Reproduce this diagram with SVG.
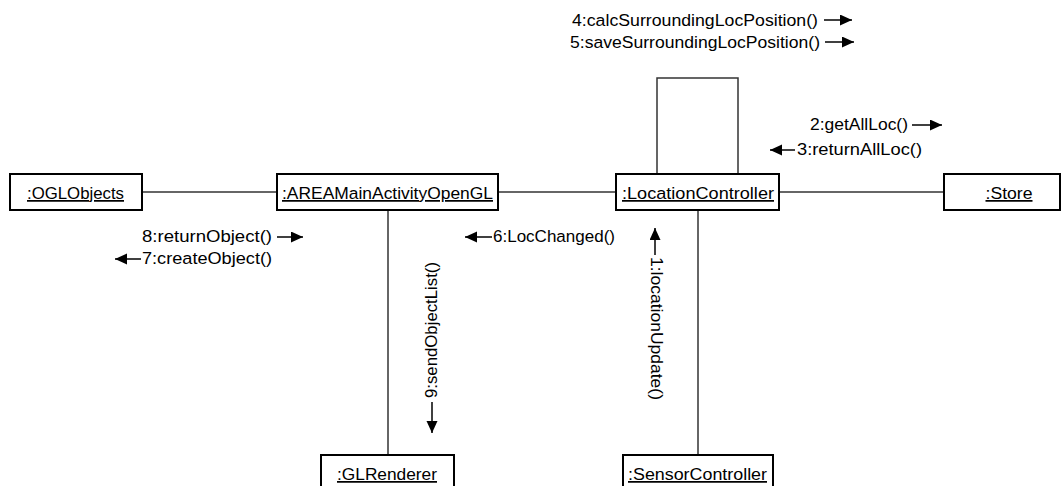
<svg xmlns="http://www.w3.org/2000/svg" width="1062" height="486" viewBox="0 0 1062 486">
<style>
.box{fill:#fff;stroke:#000;stroke-width:2}
.conn{fill:none;stroke:#333;stroke-width:1.5}
.msg{fill:none;stroke:#000;stroke-width:1.5;marker-end:url(#ah)}
text{font-family:"Liberation Sans",Arial,sans-serif;font-size:17.4px;fill:#000}
.lbl{text-anchor:middle;text-decoration:underline}
</style>
<defs>
<marker id="ah" markerUnits="userSpaceOnUse" markerWidth="13" markerHeight="12" refX="12" refY="5.5" orient="auto">
<path d="M0,0 L12,5.5 L0,11 z" fill="#000"/>
</marker>
</defs>
<rect width="1062" height="486" fill="#fff"/>
<g id="connectors">
<line class="conn" x1="142" y1="192" x2="277" y2="192"/>
<line class="conn" x1="498" y1="192" x2="616" y2="192"/>
<line class="conn" x1="779" y1="192" x2="944" y2="192"/>
<line class="conn" x1="388" y1="210" x2="388" y2="455"/>
<line class="conn" x1="698" y1="210" x2="698" y2="455"/>
<path class="conn" d="M657,174 V78 H738 V174"/>
</g>
<g id="messages">
<text x="572" y="26" textLength="246" lengthAdjust="spacingAndGlyphs">4:calcSurroundingLocPosition()</text>
<line class="msg" x1="824" y1="20" x2="852" y2="20"/>
<text x="570" y="48" textLength="250" lengthAdjust="spacingAndGlyphs">5:saveSurroundingLocPosition()</text>
<line class="msg" x1="825" y1="42" x2="854" y2="42"/>
<text x="810" y="130" textLength="98" lengthAdjust="spacingAndGlyphs">2:getAllLoc()</text>
<line class="msg" x1="912" y1="125" x2="942" y2="125"/>
<text x="797" y="155" textLength="125" lengthAdjust="spacingAndGlyphs">3:returnAllLoc()</text>
<line class="msg" x1="795" y1="150" x2="770" y2="150"/>
<text x="142" y="242" textLength="130" lengthAdjust="spacingAndGlyphs">8:returnObject()</text>
<line class="msg" x1="277" y1="237" x2="303" y2="237"/>
<text x="142" y="264" textLength="130" lengthAdjust="spacingAndGlyphs">7:createObject()</text>
<line class="msg" x1="141" y1="259" x2="115" y2="259"/>
<text x="493" y="242" textLength="122" lengthAdjust="spacingAndGlyphs">6:LocChanged()</text>
<line class="msg" x1="492" y1="237" x2="465" y2="237"/>
<text x="650.5" y="257" transform="rotate(90 650.5 257)" textLength="143" lengthAdjust="spacingAndGlyphs">1:locationUpdate()</text>
<line class="msg" x1="655" y1="255" x2="655" y2="228"/>
<text x="436.5" y="398" transform="rotate(-90 436.5 398)" textLength="136" lengthAdjust="spacingAndGlyphs">9:sendObjectList()</text>
<line class="msg" x1="432" y1="402" x2="432" y2="433"/>
</g>
<g id="OGLObjects">
<rect class="box" x="10" y="174" width="132" height="36"/>
<text class="lbl" x="75.5" y="199" textLength="97" lengthAdjust="spacingAndGlyphs">:OGLObjects</text>
</g>
<g id="AREAMainActivityOpenGL">
<rect class="box" x="277" y="174" width="221" height="36"/>
<text class="lbl" x="387.5" y="199" textLength="211" lengthAdjust="spacingAndGlyphs">:AREAMainActivityOpenGL</text>
</g>
<g id="LocationController">
<rect class="box" x="616" y="174" width="163" height="36"/>
<text class="lbl" x="698" y="199" textLength="152" lengthAdjust="spacingAndGlyphs">:LocationController</text>
</g>
<g id="Store">
<rect class="box" x="944" y="174" width="116" height="36"/>
<text class="lbl" x="1009" y="199" textLength="47" lengthAdjust="spacingAndGlyphs">:Store</text>
</g>
<g id="GLRenderer">
<rect class="box" x="321" y="455" width="133" height="36"/>
<text class="lbl" x="387" y="480" textLength="100" lengthAdjust="spacingAndGlyphs">:GLRenderer</text>
</g>
<g id="SensorController">
<rect class="box" x="623" y="455" width="150" height="36"/>
<text class="lbl" x="697.5" y="480" textLength="139" lengthAdjust="spacingAndGlyphs">:SensorController</text>
</g>
</svg>
